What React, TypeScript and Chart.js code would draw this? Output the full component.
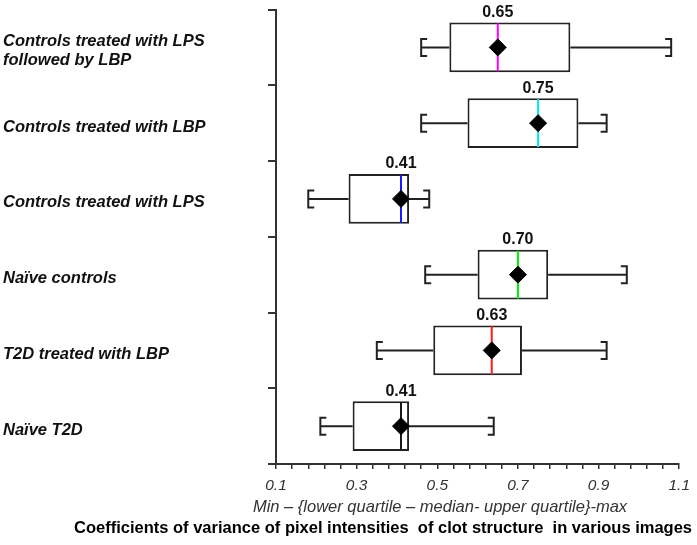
import { useEffect, useRef } from "react";
import { Chart, registerables } from "chart.js";

Chart.register(...registerables);

const categories: (string | string[])[] = [
  ["Controls treated with LPS", "followed by LBP"],
  "Controls treated with LBP",
  "Controls treated with LPS",
  "Naïve controls",
  "T2D treated with LBP",
  "Naïve T2D",
];
const mins = [0.46, 0.46, 0.18, 0.47, 0.35, 0.21];
const q1s = [0.53, 0.575, 0.28, 0.6, 0.49, 0.29];
const medians = [0.65, 0.75, 0.41, 0.7, 0.635, 0.41];
const q3s = [0.83, 0.85, 0.43, 0.775, 0.71, 0.43];
const maxs = [1.08, 0.92, 0.48, 0.97, 0.92, 0.64];
const medianLabels = ["0.65", "0.75", "0.41", "0.70", "0.63", "0.41"];
const medianColors = ["#ff00ff", "#00e6f0", "#1a1aff", "#00ee00", "#ff1a1a", "#1a1a1a"];
const xTickLabels = [0.1, 0.3, 0.5, 0.7, 0.9, 1.1];
const xAxisCaption = "Min – {lower quartile – median- upper quartile}-max";
const chartTitle = "Coefficients of variance of pixel intensities  of clot structure  in various images";

const FONT = "'Liberation Sans', Arial, Helvetica, sans-serif";

const boxExtras = {
  id: "boxExtras",
  afterDatasetDraw(chart: any, args: any) {
    if (args.index !== 0) return;
    const ctx = chart.ctx;
    const xs = chart.scales.x;
    const meta = chart.getDatasetMeta(0);
    ctx.save();
    categories.forEach((_, i) => {
      const bar = meta.data[i];
      const { y, height } = bar.getProps(["y", "height"], true);
      const top = y - height / 2;
      const bottom = y + height / 2;
      const xMin = xs.getPixelForValue(mins[i]);
      const xQ1 = xs.getPixelForValue(q1s[i]);
      const xQ3 = xs.getPixelForValue(q3s[i]);
      const xMax = xs.getPixelForValue(maxs[i]);
      const xMed = xs.getPixelForValue(medians[i]);
      ctx.strokeStyle = "#222";
      ctx.lineWidth = 2;
      ctx.beginPath();
      ctx.moveTo(xMin, y);
      ctx.lineTo(xQ1, y);
      ctx.moveTo(xQ3, y);
      ctx.lineTo(xMax, y);
      const ch = 8.5;
      const cw = 6;
      ctx.moveTo(xMin + cw, y - ch);
      ctx.lineTo(xMin, y - ch);
      ctx.lineTo(xMin, y + ch);
      ctx.lineTo(xMin + cw, y + ch);
      ctx.moveTo(xMax - cw, y - ch);
      ctx.lineTo(xMax, y - ch);
      ctx.lineTo(xMax, y + ch);
      ctx.lineTo(xMax - cw, y + ch);
      ctx.stroke();
      ctx.strokeStyle = medianColors[i];
      ctx.lineWidth = 2;
      ctx.beginPath();
      ctx.moveTo(xMed, top + 1);
      ctx.lineTo(xMed, bottom - 1);
      ctx.stroke();
      ctx.fillStyle = "#111";
      ctx.font = `bold 16px ${FONT}`;
      ctx.textAlign = "center";
      ctx.textBaseline = "bottom";
      ctx.fillText(medianLabels[i], xMed, top - 2);
    });
    ctx.restore();
  },
  afterDraw(chart: any) {
    const ctx = chart.ctx;
    ctx.save();
    ctx.fillStyle = "#333";
    ctx.font = `italic 16.5px ${FONT}`;
    ctx.textAlign = "center";
    ctx.textBaseline = "middle";
    ctx.fillText(xAxisCaption, 440, 507);
    ctx.fillStyle = "#000";
    ctx.font = `bold 16.5px ${FONT}`;
    ctx.textAlign = "right";
    ctx.fillText(chartTitle, 692, 528);
    ctx.restore();
  },
};

export default function App() {
  const ref = useRef<HTMLCanvasElement>(null);
  useEffect(() => {
    if (!ref.current) return;
    const chart = new Chart(ref.current, {
      type: "bar",
      data: {
        labels: categories as any,
        datasets: [
          {
            type: "bar",
            data: categories.map((_, i) => [q1s[i], q3s[i]]) as any,
            backgroundColor: "#ffffff",
            borderColor: "#222",
            borderWidth: 2,
            borderSkipped: false,
            barPercentage: 0.66,
            categoryPercentage: 1,
            order: 2,
          } as any,
          {
            type: "scatter",
            data: medians.map((m, i) => ({ x: m, y: i })) as any,
            pointStyle: "rectRot",
            pointRadius: 8.5,
            pointBackgroundColor: "#000",
            pointBorderColor: "#000",
            pointBorderWidth: 1,
            order: 1,
          } as any,
        ],
      },
      options: {
        indexAxis: "y",
        responsive: false,
        animation: false,
        layout: { padding: { left: 3, top: 7, right: 17, bottom: 0 } },
        plugins: { legend: { display: false }, tooltip: { enabled: false }, title: { display: false } },
        scales: {
          x: {
            type: "linear",
            min: 0.1,
            max: 1.1,
            afterFit: (s: any) => {
              s.height = 81;
            },
            border: { display: true, color: "#333", width: 2 },
            grid: { drawOnChartArea: false, drawTicks: true, tickLength: 5, color: "#333", lineWidth: 1.5 },
            ticks: {
              stepSize: 0.04,
              autoSkip: false,
              maxRotation: 0,
              padding: 7,
              color: "#333",
              font: { family: FONT, size: 15.5, style: "italic" },
              callback: (value: any) => {
                const v = Number(value);
                const hit = xTickLabels.find((t) => Math.abs(t - v) < 1e-6);
                return hit !== undefined ? hit.toFixed(1) : "";
              },
            },
          },
          y: {
            type: "category",
            offset: true,
            afterFit: (s: any) => {
              s.width = 273;
              s.paddingTop = 0;
              s.paddingBottom = 0;
              s.getPadding = () => ({ left: 0, top: 0, right: 0, bottom: 0 });
            },
            border: { display: true, color: "#333", width: 2 },
            grid: { drawOnChartArea: false, drawTicks: true, tickLength: 8, offset: true, color: "#333", lineWidth: 2 },
            ticks: {
              autoSkip: false,
              crossAlign: "far",
              labelOffset: 4,
              color: "#111",
              font: { family: FONT, size: 16.5, style: "italic", weight: "bold", lineHeight: 1.15 },
            },
          },
        },
      } as any,
      plugins: [boxExtras],
    });
    return () => chart.destroy();
  }, []);
  return (
    <div style={{ position: "fixed", left: 0, top: 0, width: 697, height: 545, background: "#fff" }}>
      <canvas ref={ref} width={697} height={545} />
    </div>
  );
}
